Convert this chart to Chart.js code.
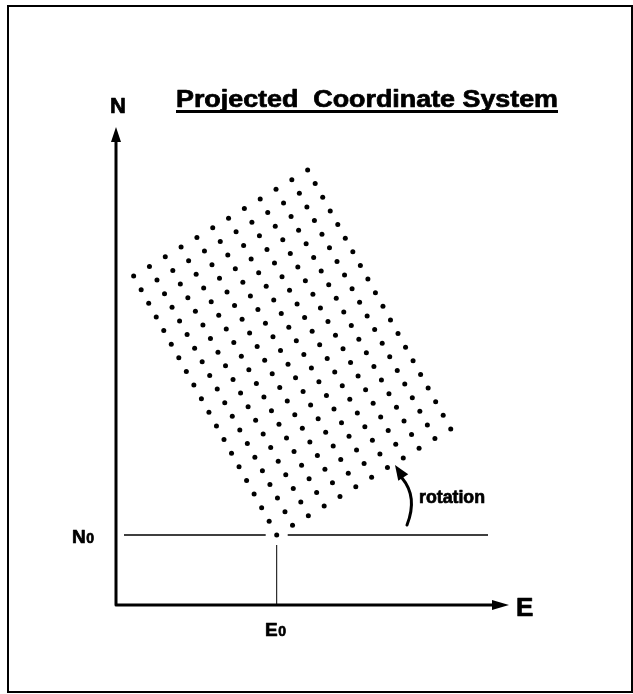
<!DOCTYPE html>
<html>
<head>
<meta charset="utf-8">
<script src="https://cdn.jsdelivr.net/npm/chart.js@4.4.1/dist/chart.umd.min.js"></script>
<style>
  html, body { margin: 0; padding: 0; background: #fff; }
  #wrap { width: 633px; height: 694px; }
</style>
</head>
<body>
<div id="wrap"><canvas id="chart" width="633" height="694"></canvas></div>
<script>
// Projected coordinate system sketch: a rotated grid of points over E/N axes
// units are read off the picture (1 unit ~ 1 px), origin at the axes corner

const titleText = 'Projected  Coordinate System';
const axisNames = ['E', 'N'];
const rotationLabel = 'rotation';

// false origin of the grid (E0, N0)
const gridOrigin = [160.7, 70];
// step to the next point along a grid row and along a grid column
const colStep = [15.82, 9.64];
const rowStep = [-7.53, 13.63];
// grid indices: 12 points across, 20 rows up
const gridCols = [0, 1, 2, 3, 4, 5, 6, 7, 8, 9, 10, 11];
const gridRows = [0, 1, 2, 3, 4, 5, 6, 7, 8, 9, 10, 11, 12, 13, 14, 15, 16, 17, 18, 19];

// axis extents
const eRange = [0, 384];
const nRange = [0, 470];

const gridPoints = [];
gridRows.forEach(r => {
  gridCols.forEach(c => {
    gridPoints.push({
      x: gridOrigin[0] + c * colStep[0] + r * rowStep[0],
      y: gridOrigin[1] + c * colStep[1] + r * rowStep[1]
    });
  });
});

const FONT = '"Liberation Sans", Arial, Helvetica, sans-serif';

// heavy text, squeezed/stretched to a given width
function fitText(ctx, txt, x, y, size, width) {
  ctx.save();
  ctx.font = 'bold ' + size + 'px ' + FONT;
  const w = ctx.measureText(txt).width;
  ctx.translate(x, y);
  ctx.scale(width / w, 1);
  ctx.lineWidth = 0.7;
  ctx.fillText(txt, 0, 0);
  ctx.strokeText(txt, 0, 0);
  ctx.restore();
}

function heavyText(ctx, txt, x, y, size) {
  ctx.font = 'bold ' + size + 'px ' + FONT;
  ctx.lineWidth = 0.7;
  ctx.fillText(txt, x, y);
  ctx.strokeText(txt, x, y);
  return ctx.measureText(txt).width;
}

// letter with a small "0" after it (E0 / N0)
function subLabel(ctx, letter, x, y, big, small) {
  const w = heavyText(ctx, letter, x, y, big);
  heavyText(ctx, '0', x + w + 0.5, y, small);
}

function arrowHead(ctx, tipX, tipY, dx, dy, len, half) {
  const px = -dy, py = dx;
  ctx.beginPath();
  ctx.moveTo(tipX, tipY);
  ctx.lineTo(tipX - dx * len + px * half, tipY - dy * len + py * half);
  ctx.lineTo(tipX - dx * len - px * half, tipY - dy * len - py * half);
  ctx.closePath();
  ctx.fill();
}

const sketchPlugin = {
  id: 'sketch',
  afterDraw(chart) {
    const ctx = chart.ctx;
    const xs = chart.scales.x, ys = chart.scales.y;
    const x0 = xs.getPixelForValue(eRange[0]);
    const y0 = ys.getPixelForValue(nRange[0]);
    const e0 = xs.getPixelForValue(gridOrigin[0]);
    const n0 = ys.getPixelForValue(gridOrigin[1]);
    ctx.save();
    ctx.fillStyle = '#000';
    ctx.strokeStyle = '#000';

    // frame
    ctx.lineWidth = 2;
    ctx.strokeRect(8, 6, 624, 686);

    // axes
    ctx.lineWidth = 3;
    ctx.lineJoin = 'round';
    ctx.beginPath();
    ctx.moveTo(x0, 135);
    ctx.lineTo(x0, y0);
    ctx.lineTo(496, y0);
    ctx.stroke();
    arrowHead(ctx, x0, 127, 0, -1, 15, 5);
    arrowHead(ctx, 509, y0, 1, 0, 17, 5);

    // N0 line with a gap at the origin point
    ctx.lineWidth = 1.5;
    ctx.beginPath();
    ctx.moveTo(124, n0);
    ctx.lineTo(e0 - 11, n0);
    ctx.moveTo(e0 + 11, n0);
    ctx.lineTo(488, n0);
    ctx.stroke();
    // E0 line
    ctx.lineWidth = 1;
    ctx.beginPath();
    ctx.moveTo(e0, n0 + 10);
    ctx.lineTo(e0, y0);
    ctx.stroke();

    // rotation arrow
    ctx.lineWidth = 3;
    ctx.lineCap = 'round';
    ctx.beginPath();
    ctx.moveTo(407, 525);
    ctx.quadraticCurveTo(418, 497, 402, 478);
    ctx.stroke();
    arrowHead(ctx, 395, 465, -0.55, -0.83, 15, 6);

    // labels
    ctx.textBaseline = 'alphabetic';
    ctx.textAlign = 'left';
    fitText(ctx, titleText, 176, 107, 23, 382);
    ctx.fillRect(176, 110, 382, 3);

    heavyText(ctx, axisNames[1], 110, 113, 22);
    heavyText(ctx, axisNames[0], 516, 616, 26);

    subLabel(ctx, axisNames[1], 72, 543, 19, 14);
    subLabel(ctx, axisNames[0], 265, 636, 19, 14);

    fitText(ctx, rotationLabel, 419, 503, 18, 66);
    ctx.restore();
  }
};

new Chart(document.getElementById('chart'), {
  type: 'scatter',
  data: {
    datasets: [{
      label: 'grid',
      data: gridPoints,
      backgroundColor: '#000',
      borderWidth: 0,
      pointRadius: 2.5,
      pointHoverRadius: 2.5
    }]
  },
  options: {
    responsive: false,
    animation: false,
    devicePixelRatio: 1,
    layout: { padding: { left: 116, top: 135, right: 133, bottom: 89 } },
    plugins: { legend: { display: false }, tooltip: { enabled: false }, title: { display: false } },
    scales: {
      x: { type: 'linear', min: eRange[0], max: eRange[1], display: false },
      y: { type: 'linear', min: nRange[0], max: nRange[1], display: false }
    }
  },
  plugins: [sketchPlugin]
});
</script>
</body>
</html>
